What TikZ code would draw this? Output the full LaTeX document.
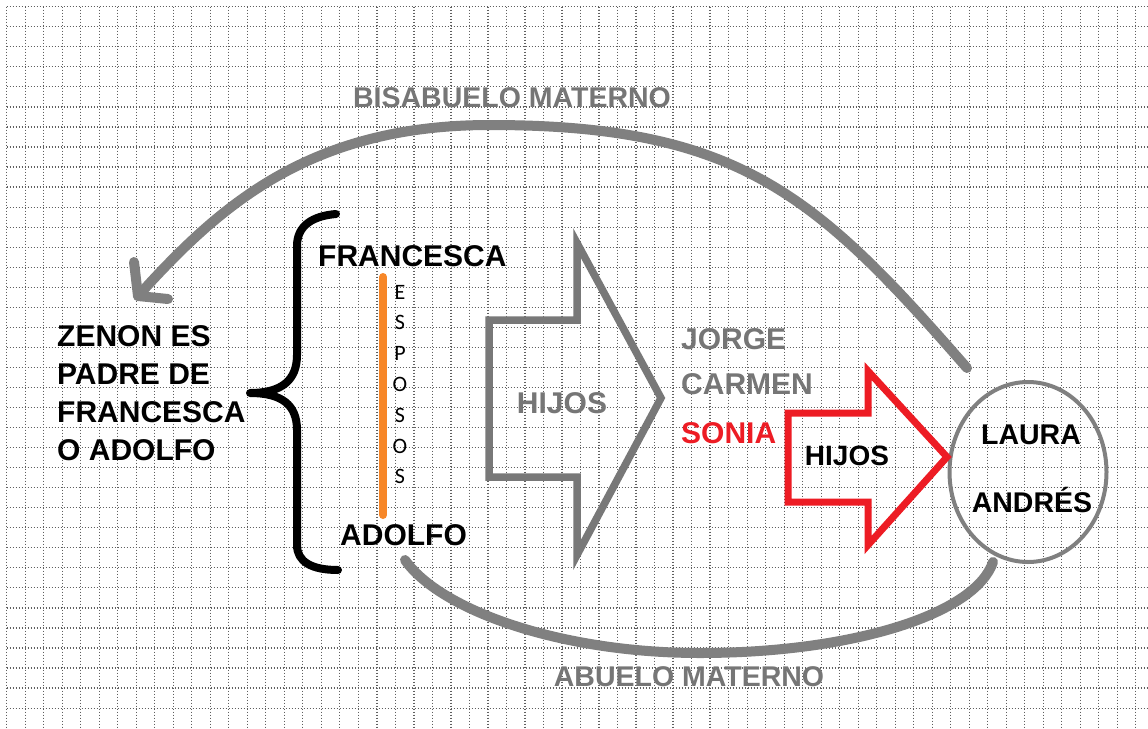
\documentclass[tikz,border=0pt]{standalone}
\usepackage{fontspec}
\setmainfont{Liberation Sans}
\newfontfamily\calib{Carlito}
\usetikzlibrary{shapes.geometric}
\definecolor{arcgray}{RGB}{128,128,128}
\definecolor{boxgray}{RGB}{120,120,120}
\definecolor{txtgray}{RGB}{118,118,118}
\definecolor{barorange}{RGB}{247,135,40}
\definecolor{arrred}{RGB}{237,28,36}
\definecolor{gridc}{RGB}{95,95,95}
\begin{document}
\begin{tikzpicture}[x=1pt,y=-1pt,
  gridline/.style={gridc, line width=1.2pt, dash pattern=on 1.3pt off 1.7pt},
  lbl/.style={inner sep=0pt, font=\bfseries\fontsize{30}{38}\selectfont},
  biglbl/.style={inner sep=0pt, text=txtgray, font=\bfseries\fontsize{28.5}{34}\selectfont},
  bigarc/.style={arcgray, line width=10pt, line cap=round, line join=round},
  bracestyle/.style={black, line width=8pt, line cap=round, line join=round},
  blockgray/.style={boxgray, line width=7.5pt, line join=miter},
  blockred/.style={arrred, line width=7pt, line join=miter}
]
\useasboundingbox (0,0) rectangle (1148,728);
\fill[white] (0,0) rectangle (1148,728);
% grid
\foreach \i in {0,...,61} \draw[gridline] ({6.7+18.51*\i},6.7) -- ({6.7+18.51*\i},728);
\foreach \j in {0,...,35} \draw[gridline] (6.7,{6.7+20.04*\j}) -- (1148,{6.7+20.04*\j});

% texts
\node[biglbl] (bisa) at (512,98) {BISABUELO MATERNO};
\node[biglbl] (abuelo) at (689,677) {ABUELO MATERNO};
\node[lbl, align=left, anchor=west] (zenon) at (57,393.5) {ZENON ES\\PADRE DE\\FRANCESCA\\O ADOLFO};
\node[lbl, anchor=west] (francesca) at (318,256) {FRANCESCA};
\node[lbl, anchor=west] (adolfo) at (340,535) {ADOLFO};
\node[inner sep=0pt, align=center, font=\calib\fontsize{22}{30.8}\selectfont] (esposos) at (400,384.5) {E\\S\\P\\O\\S\\O\\S};
\node[lbl, text=txtgray] (hijos1) at (562,403) {HIJOS};
\node[lbl, text=txtgray, anchor=west] (jorge) at (681,339) {JORGE};
\node[lbl, text=txtgray, anchor=west] (carmen) at (681,384) {CARMEN};
\node[lbl, text=arrred, anchor=west] (sonia) at (681,433) {SONIA};
\node[lbl, font=\bfseries\fontsize{28}{34}\selectfont] (hijos2) at (847,456) {HIJOS};
\node[draw=arcgray, line width=4pt, ellipse, minimum width=157pt, minimum height=180pt, inner sep=0pt] (la) at (1028,472) {};
\node[lbl, font=\bfseries\fontsize{28.5}{34}\selectfont] (laura) at (1031,435) {LAURA};
\node[lbl, font=\bfseries\fontsize{28.5}{34}\selectfont] (andres) at (1032,500) {ANDRÉS};

% orange bar
\draw[barorange, line width=8pt, line cap=round] (383,277) -- (383,515);

% brace
\coordinate (bt) at (336,214);
\coordinate (bb) at (338,570);
\coordinate (bc) at (250,393);
\draw[bracestyle] (bt) .. controls (312,216) and (297,226) .. (297,246) -- (297,355)
  .. controls (297,380) and (282,393) .. (bc)
  .. controls (282,393) and (297,405) .. (297,430) -- (297,545)
  .. controls (297,562) and (312,570) .. (bb);

% gray block arrow
\draw[blockgray] (489,320) -- (577,320) -- (577,243) -- (661,398) -- (577,555) -- (577,477) -- (489,477) -- cycle;
% red block arrow
\draw[blockred] (788,413) -- (868,413) -- (868,371) -- (947,457) -- (868,545) -- (868,502) -- (788,502) -- cycle;

% top arc with open arrowhead
\coordinate (s1) at (967,368);
\coordinate (top) at (490,125);
\coordinate (tip) at (138,296);
\coordinate (armA) at (134,262);
\coordinate (armB) at (168,299);
\draw[bigarc] (s1) .. controls (817,196) and (740,125) .. (top)
  .. controls (310,125) and (220,205) .. (tip);
\draw[bigarc] (armA) -- (tip) -- (armB);

% bottom arc
\coordinate (a1) at (405,560);
\coordinate (bot) at (700,653);
\coordinate (a2) at (993,562);
\draw[bigarc] (a1) .. controls (440,610) and (560,653) .. (bot)
  .. controls (850,653) and (975,615) .. (a2);
\end{tikzpicture}
\end{document}
